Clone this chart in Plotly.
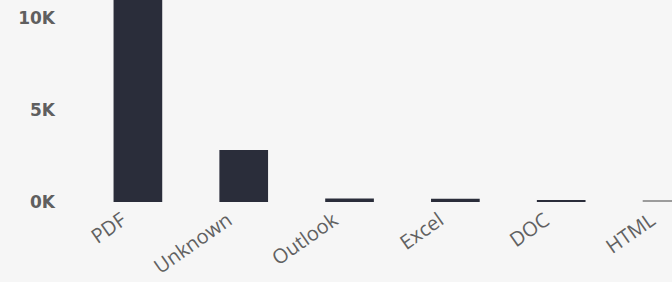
import plotly.graph_objects as go

categories = ["PDF", "Unknown", "Outlook", "Excel", "DOC", "HTML"]
values = [12500, 2830, 190, 180, 110, 100]
bar_colors = ["#2a2d3a", "#2a2d3a", "#2a2d3a", "#2a2d3a", "#2a2d3a", "#9c9c9c"]
y_tickvals = [0, 5000, 10000]
y_ticktext = ["0K", "5K", "10K"]

fig = go.Figure(go.Bar(
    x=categories, y=values,
    marker=dict(color=bar_colors, line=dict(width=0)),
    hoverinfo="skip",
))

fig.update_layout(
    width=672, height=282,
    margin=dict(l=60, r=0, t=0, b=80),
    paper_bgcolor="#f6f6f6", plot_bgcolor="#f6f6f6",
    bargap=0.54,
    showlegend=False,
    font=dict(family="Open Sans, Noto Sans, sans-serif", color="#555555"),
    xaxis=dict(
        range=[-0.736, 5.047], showgrid=False, zeroline=False, showline=False,
        tickangle=-35, tickfont=dict(size=20, color="#616161"), ticks="",
        ticklabelshift=-16, ticklabelstandoff=2, automargin=False,
    ),
    yaxis=dict(
        range=[0, 11000], showgrid=False, zeroline=False, showline=False,
        tickvals=y_tickvals, ticktext=y_ticktext,
        tickfont=dict(size=17, color="#5f5f5f", weight=700,
                      family="DejaVu Sans, sans-serif"),
        ticks="", ticklabelstandoff=4, automargin=False,
    ),
)

fig.write_html("out.html", config={"displayModeBar": False},
               post_script="document.body.style.margin='0';document.body.style.overflow='hidden';")
